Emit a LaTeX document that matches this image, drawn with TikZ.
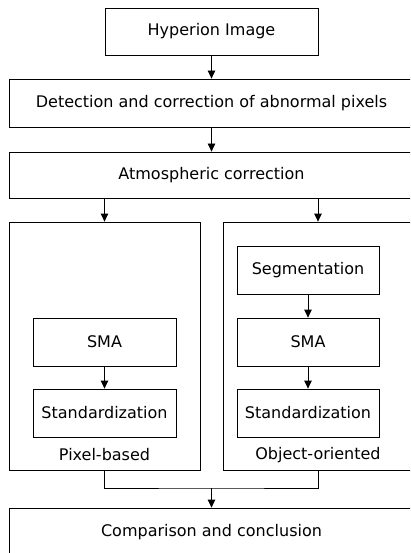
\documentclass[tikz,border=0pt]{standalone}
\usepackage{fontspec}
\setmainfont{DejaVu Sans}
\usetikzlibrary{arrows.meta}
\begin{document}
\begin{tikzpicture}[x=1pt,y=-1pt,
  every node/.style={font=\fontsize{16}{19}\selectfont},
  box/.style={draw, line width=0.8pt, inner sep=0pt, rectangle},
  wide/.style={box, minimum width=405pt, minimum height=48pt},
  inner/.style={box, minimum width=143pt, minimum height=48pt},
  frame/.style={box, minimum width=191pt, minimum height=248pt},
  link/.style={line width=0.8pt},
  flow/.style={link, -{Triangle[width=7.5pt,length=8pt]}}]
  \useasboundingbox (0,0) rectangle (410,553);
  \clip (0,0) rectangle (410,553);

  % main chain
  \node[box, minimum width=213pt, minimum height=47pt] (hyp) at (211.5,31.5) {Hyperion Image};
  \node[wide] (det) at (211.5,103) {Detection and correction of abnormal pixels};
  \node[wide, minimum height=46pt] (atm) at (211.5,175) {Atmospheric correction};

  % two branches
  \node[frame] (lout) at (104.5,346) {};
  \node[frame, minimum width=190pt] (rout) at (318,346) {};

  \node[inner] (lsma) at (104.5,342) {SMA};
  \node[inner] (lstd) at (104.5,413) {Standardization};
  \node (lpix) at (104.5,455) {Pixel-based};

  \node[inner, minimum width=142pt] (seg) at (308,270) {Segmentation};
  \node[inner, minimum width=142pt] (rsma) at (308,342) {SMA};
  \node[inner, minimum width=142pt] (rstd) at (308,413) {Standardization};
  \node (robj) at (318,455) {Object-oriented};

  \node[wide] (comp) at (211.5,532) {Comparison and conclusion};

  % connectors
  \draw[flow] (hyp.south) -- (det.north);
  \draw[flow] (det.south) -- (atm.north);
  \draw[flow] (lout.north |- atm.south) -- (lout.north);
  \draw[flow] (rout.north |- atm.south) -- (rout.north);
  \draw[flow] (lsma.south) -- (lstd.north);
  \draw[flow] (seg.south) -- (rsma.north);
  \draw[flow] (rsma.south) -- (rstd.north);
  \coordinate (join) at (211.5,488);
  \draw[link] (lout.south) |- (join) -| (rout.south);
  \draw[flow] (join) -- (comp.north);
\end{tikzpicture}
\end{document}
